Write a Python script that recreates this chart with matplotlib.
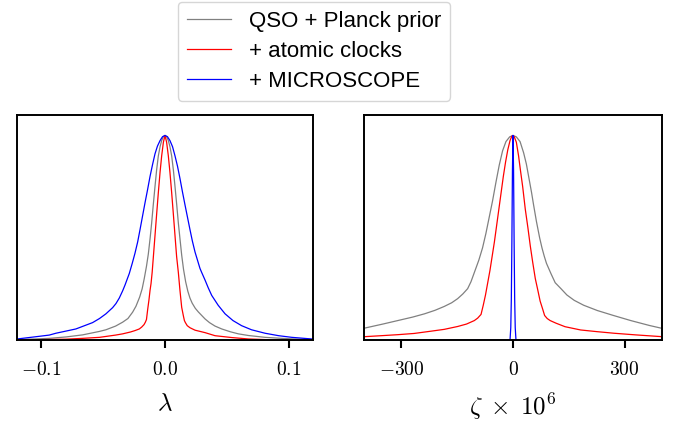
import matplotlib
matplotlib.use('Agg')
import matplotlib.pyplot as plt
import numpy as np

plt.rcParams['mathtext.fontset'] = 'cm'
plt.rcParams['font.family'] = ['Liberation Sans', 'DejaVu Sans']

## lambda panel (normalised posteriors)
lam_qso_x = [-0.121, -0.105, -0.0937, -0.080, -0.0667, -0.053, -0.0478, -0.040, -0.0343, -0.030, -0.0262, -0.0235,
             -0.0205, -0.0185, -0.0168, -0.0150, -0.0135, -0.0120, -0.0108, -0.0095, -0.0081, -0.0068, -0.0054,
             -0.0040, -0.0027, -0.0013, 0.0,
             0.0013, 0.0027, 0.0040, 0.0054, 0.0068, 0.0081, 0.0095, 0.0108, 0.0122, 0.0135, 0.0150, 0.0167,
             0.0185, 0.0202, 0.0220, 0.0245, 0.027, 0.0297, 0.0324, 0.036, 0.0405, 0.0459, 0.053, 0.0594, 0.0675,
             0.081, 0.0945, 0.108, 0.121]
lam_qso_y = [0.002, 0.005, 0.008, 0.015, 0.025, 0.042, 0.050, 0.068, 0.087, 0.105, 0.136, 0.165,
             0.21, 0.25, 0.30, 0.36, 0.42, 0.50, 0.572, 0.66, 0.75, 0.83, 0.90,
             0.945, 0.975, 0.994, 1.0,
             0.994, 0.975, 0.945, 0.90, 0.83, 0.75, 0.66, 0.572, 0.49, 0.415, 0.345, 0.285,
             0.238, 0.205, 0.18, 0.155, 0.137, 0.12, 0.103, 0.085, 0.068, 0.054, 0.040, 0.030, 0.022,
             0.013, 0.008, 0.004, 0.002]

lam_clk_x = [-0.121, -0.100, -0.080, -0.0667, -0.053, -0.040, -0.0343, -0.0280, -0.0243, -0.0208, -0.0189,
             -0.0170, -0.0159, -0.0150, -0.0140, -0.0130, -0.0121, -0.0113, -0.0104, -0.0094, -0.0081, -0.0067,
             -0.0054, -0.0040, -0.0027, -0.0013, 0.0,
             0.0013, 0.0027, 0.0040, 0.0054, 0.0067, 0.0081, 0.0094, 0.0108, 0.0121, 0.0135, 0.0148, 0.0157,
             0.0165, 0.0180, 0.0202, 0.0243, 0.0324, 0.0405, 0.054, 0.0675, 0.081, 0.0945, 0.121]
lam_clk_y = [0.001, 0.002, 0.004, 0.008, 0.013, 0.024, 0.030, 0.039, 0.046, 0.054, 0.063,
             0.075, 0.087, 0.10, 0.15, 0.195, 0.243, 0.276, 0.33, 0.408, 0.51, 0.62,
             0.72, 0.82, 0.90, 0.967, 1.0,
             0.967, 0.90, 0.82, 0.72, 0.62, 0.51, 0.408, 0.33, 0.243, 0.16, 0.12, 0.095,
             0.085, 0.07, 0.06, 0.048, 0.036, 0.021, 0.012, 0.005, 0.002, 0.0, 0.0]

lam_mic_x = [-0.121, -0.1045, -0.0937, -0.0883, -0.0721, -0.0586, -0.053, -0.0478, -0.0424, -0.0397, -0.0370,
             -0.0343, -0.0324, -0.0289, -0.0265, -0.0243, -0.0221, -0.0202, -0.0182, -0.0162, -0.0141, -0.0121,
             -0.0101, -0.0081, -0.0061, -0.0040, -0.0020, 0.0,
             0.0020, 0.0040, 0.0061, 0.0081, 0.0101, 0.0121, 0.0141, 0.0162, 0.0182, 0.0202, 0.0221, 0.0243,
             0.0263, 0.0283, 0.0297, 0.0324, 0.0350, 0.0378, 0.0430, 0.0486, 0.055, 0.062, 0.070, 0.081, 0.092,
             0.1026, 0.1188, 0.121]
lam_mic_y = [0.004, 0.016, 0.024, 0.033, 0.054, 0.085, 0.105, 0.128, 0.158, 0.178, 0.205,
             0.24, 0.268, 0.325, 0.375, 0.424, 0.48, 0.54, 0.605, 0.67, 0.735, 0.80,
             0.857, 0.91, 0.948, 0.975, 0.994, 1.0,
             0.994, 0.975, 0.945, 0.90, 0.85, 0.79, 0.725, 0.66, 0.60, 0.54, 0.485, 0.43,
             0.39, 0.35, 0.33, 0.293, 0.255, 0.218, 0.17, 0.128, 0.095, 0.07, 0.05, 0.033, 0.021,
             0.013, 0.005, 0.004]

## zeta panel (x 10^6)
zeta_qso_x = [-402, -350, -310, -270, -238, -210, -185, -165, -149, -135, -122, -113, -104, -92, -82, -73, -64,
              -55, -46, -37, -28, -19, -9, 0,
              9, 19, 28.6, 36, 42, 50, 55.4, 63, 71.6, 78, 84, 90, 102, 113.5, 129, 145, 164.6, 190, 227, 270,
              316.8, 367, 403]
zeta_qso_y = [0.057, 0.078, 0.095, 0.112, 0.128, 0.145, 0.164, 0.182, 0.202, 0.225, 0.251, 0.285, 0.33, 0.39,
              0.45, 0.52, 0.60, 0.68, 0.77, 0.855, 0.925, 0.97, 0.993, 1.0,
              0.993, 0.97, 0.915, 0.86, 0.80, 0.72, 0.66, 0.58, 0.50, 0.45, 0.41, 0.375, 0.325, 0.28, 0.251,
              0.22, 0.194, 0.17, 0.144, 0.12, 0.095, 0.071, 0.056]

zeta_clk_x = [-402, -355, -310, -266, -221, -185, -149, -125, -104, -95, -86, -80, -74, -68, -62, -56, -50,
              -44, -38, -32, -26, -20, -14, -8, -3, 0,
              3, 9, 15, 20, 26, 33, 40, 46.5, 53, 60, 66, 73, 80, 85, 92, 100, 116, 140, 182, 225, 272, 330, 403]
zeta_clk_y = [0.016, 0.021, 0.026, 0.032, 0.043, 0.052, 0.066, 0.078, 0.095, 0.107, 0.125, 0.17, 0.22, 0.28,
              0.34, 0.41, 0.48, 0.56, 0.64, 0.72, 0.80, 0.87, 0.93, 0.975, 0.997, 1.0,
              0.995, 0.967, 0.90, 0.83, 0.75, 0.64, 0.55, 0.46, 0.38, 0.30, 0.25, 0.19, 0.15, 0.12, 0.105,
              0.095, 0.082, 0.065, 0.049, 0.041, 0.033, 0.025, 0.016]

zeta_mic_x = [-402, -8, -6, -4.5, -3, -1.5, 0, 1.5, 3, 4.5, 6, 8, 403]
zeta_mic_y = [0.0, 0.0, 0.06, 0.2, 0.48, 0.83, 1.0, 0.83, 0.48, 0.2, 0.06, 0.0, 0.0]

labels = ['QSO + Planck prior', '+ atomic clocks', '+ MICROSCOPE']
colors = ['grey', 'red', 'blue']

fig = plt.figure(figsize=(6.86, 4.23), dpi=100)
W, H = 686, 423
ax1 = fig.add_axes([16.7 / W, 1 - 340 / H, 296.6 / W, 225 / H])
ax2 = fig.add_axes([364.3 / W, 1 - 340 / H, 297.4 / W, 225 / H])

panels = [
    (ax1, [(lam_qso_x, lam_qso_y), (lam_clk_x, lam_clk_y), (lam_mic_x, lam_mic_y)],
     (-0.12, 0.12), [-0.1, 0.0, 0.1], [r'$-0.1$', r'$0.0$', r'$0.1$'], r'$\lambda$'),
    (ax2, [(zeta_qso_x, zeta_qso_y), (zeta_clk_x, zeta_clk_y), (zeta_mic_x, zeta_mic_y)],
     (-400, 400), [-300, 0, 300], [r'$-300$', r'$0$', r'$300$'], r'$\zeta\;\times\;10^6$'),
]

lines = []
for ax, curves, xlim, ticks, ticklabels, xlabel in panels:
    for (x, y), c, lab in zip(curves, colors, labels):
        l, = ax.plot(x, y, color=c, lw=0.9, label=lab)
        if ax is ax1:
            lines.append(l)
    ax.set_xlim(*xlim)
    ax.set_ylim(0, 1.1)
    ax.set_yticks([])
    ax.set_xticks(ticks)
    ax.set_xticklabels(ticklabels, fontsize=14)
    ax.set_xlabel(xlabel, fontsize=18, labelpad=9)
    ax.tick_params(axis='x', direction='out', length=6, width=1.5, pad=9)
    for s in ax.spines.values():
        s.set_linewidth(1.4)

fig.legend(lines, labels, loc='upper center', bbox_to_anchor=(314 / W, 1 - 2 / H),
           fontsize=16, handlelength=2.0, handletextpad=0.8, borderaxespad=0, labelspacing=0.4)

fig.savefig('out.png', dpi=100)
